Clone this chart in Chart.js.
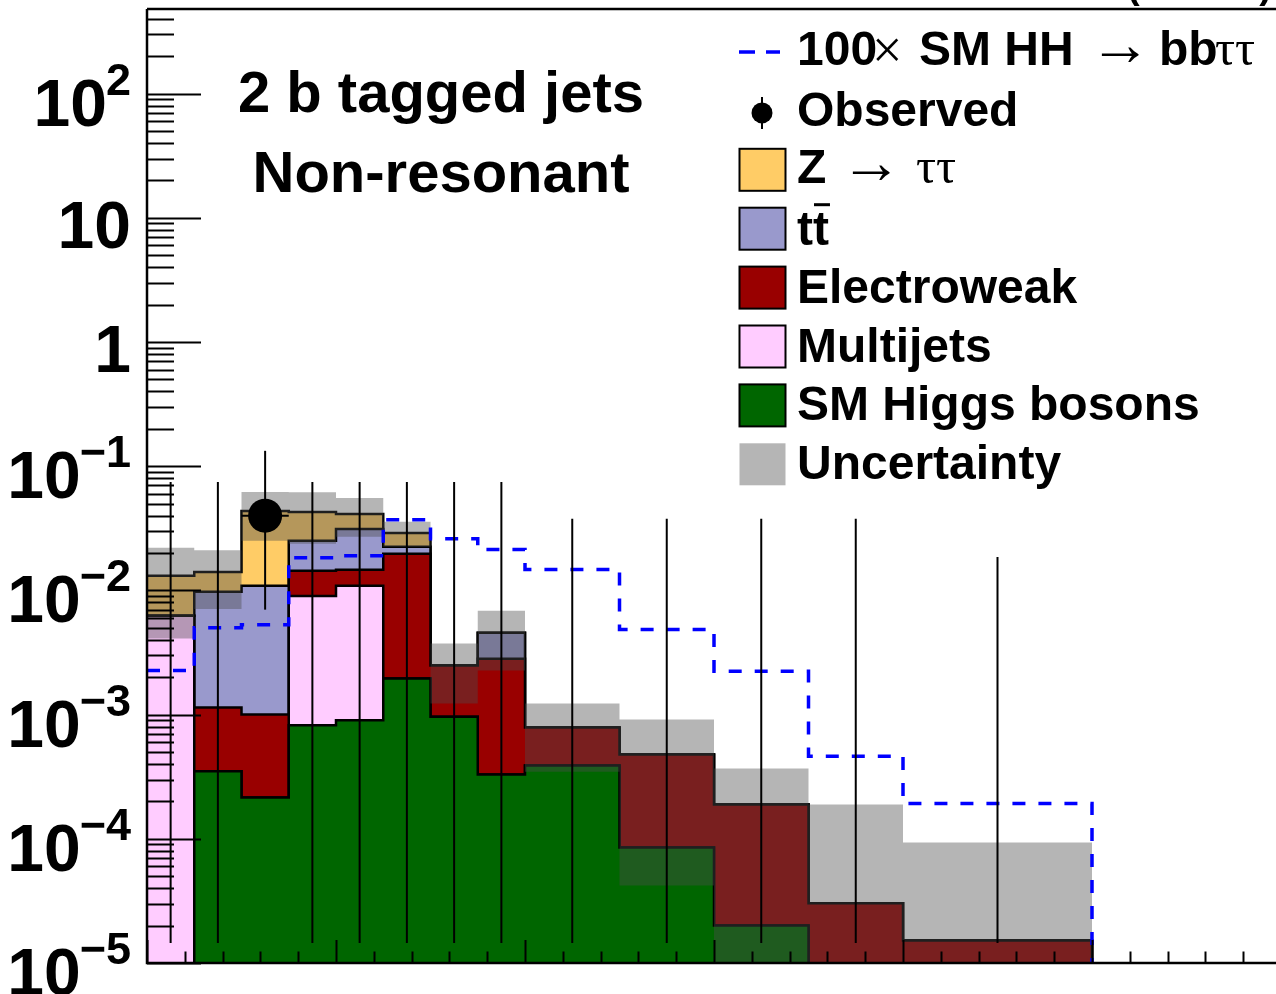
<!DOCTYPE html>
<html>
<head>
<meta charset="utf-8">
<script src="https://cdn.jsdelivr.net/npm/chart.js@4.4.1/dist/chart.umd.min.js"></script>
<style>
  html, body { margin: 0; padding: 0; background: #fff; overflow: hidden; }
  canvas { display: block; }
</style>
</head>
<body>
<canvas id="histChart" width="1290" height="994"></canvas>
<script>
"use strict";

// bin edges (axis runs 0 - 600, last bin is empty)
const binEdges = [0, 25, 50, 75, 100, 125, 150, 175, 200, 250, 300, 350, 400, 500, 600];

// background yields per bin, stack order bottom -> top
const smHiggs     = [0, 3.5e-4, 2.15e-4, 8.2e-4, 9.0e-4, 1.95e-3, 9.6e-4, 3.3e-4, 3.9e-4, 8.5e-5, 2.0e-5, 0, 0, 0];
const multijets   = [6.25e-3, 0, 0, 8.2e-3, 1.0e-2, 0, 0, 0, 0, 0, 0, 0, 0, 0];
const electroweak = [0, 7.9e-4, 7.85e-4, 5.35e-3, 3.76e-3, 1.78e-2, 1.52e-3, 2.49e-3, 3.97e-4, 3.92e-4, 1.69e-4, 3.03e-5, 1.52e-5, 0];
const ttbar       = [0, 8.6e-3, 9.9e-3, 1.07e-2, 1.66e-2, 2.7e-3, 0, 1.74e-3, 0, 0, 0, 0, 0, 0];
const zTauTau     = [6.85e-3, 4.35e-3, 3.27e-2, 1.77e-2, 1.0e-2, 6.6e-3, 0, 0, 0, 0, 0, 0, 0, 0];

// absolute uncertainty on the total background
const bkgUnc      = [9.0e-3, 7.0e-3, 1.85e-2, 1.9e-2, 1.42e-2, 6.6e-3, 1.25e-3, 2.3e-3, 4.4e-4, 4.35e-4, 1.79e-4, 1.59e-4, 7.8e-5, 0];

// 100 x SM HH -> bb tau tau
const signalHH    = [2.26e-3, 5.0e-3, 5.29e-3, 1.83e-2, 1.9e-2, 3.7e-2, 2.6e-2, 2.13e-2, 1.47e-2, 4.85e-3, 2.23e-3, 4.62e-4, 1.92e-4, 0];

// observed data and error bar ends
const observed    = [0, 0, 0.04, 0, 0, 0, 0, 0, 0, 0, 0, 0, 0, null];
const obsUpper    = [0.0746, 0.0746, 0.133, 0.0746, 0.0746, 0.0746, 0.0746, 0.0746, 0.0377, 0.0377, 0.0377, 0.0377, 0.0186, null];
const obsLower    = [1.45e-5, 1.45e-5, 0.007, 1.45e-5, 1.45e-5, 1.45e-5, 1.45e-5, 1.45e-5, 1.45e-5, 1.45e-5, 1.45e-5, 1.45e-5, 1.45e-5, null];

// y axis decades and their labels [base, exponent]
const yTickPowers = [-5, -4, -3, -2, -1, 0, 1, 2];
const yTickLabels = [["10", "\u22125"], ["10", "\u22124"], ["10", "\u22123"], ["10", "\u22122"], ["10", "\u22121"], ["1", ""], ["10", ""], ["10", "2"]];

const colors = {
  higgs: "#006600",
  multijets: "#ffccff",
  electroweak: "#990000",
  ttbar: "#9999cc",
  ztt: "#ffcc66",
  band: "rgba(75,75,75,0.41)",
  signal: "#0000ff"
};

// empty bins sit below the log axis (clipped), a log scale can't take 0
const FLOOR = 1e-8;

function steps(vals) {
  const pts = vals.map((v, i) => ({ x: binEdges[i], y: v > 0 ? v : FLOOR }));
  pts.push({ x: binEdges[binEdges.length - 1], y: pts[pts.length - 1].y });
  return pts;
}

// cumulative stack
const layers = [smHiggs, multijets, electroweak, ttbar, zTauTau];
const cumulative = [];
layers.forEach((layer, k) => {
  cumulative.push(layer.map((v, i) => v + (k > 0 ? cumulative[k - 1][i] : 0)));
});
const total = cumulative[cumulative.length - 1];
const bandHi = total.map((t, i) => t + bkgUnc[i]);
const bandLo = total.map((t, i) => t - bkgUnc[i]);

function stackSet(label, k, color, order) {
  return {
    label: label,
    data: steps(cumulative[k]),
    stepped: "before",
    fill: "start",
    backgroundColor: color,
    borderColor: "#000",
    borderWidth: 2.5,
    pointRadius: 0,
    order: order
  };
}

const datasets = [
  stackSet("Z \u2192 \u03c4\u03c4", 4, colors.ztt, 10),
  stackSet("tt", 3, colors.ttbar, 9),
  stackSet("Electroweak", 2, colors.electroweak, 8),
  stackSet("Multijets", 1, colors.multijets, 7),
  stackSet("SM Higgs bosons", 0, colors.higgs, 6),
  {
    label: "bandHi", data: steps(bandHi), stepped: "before", fill: false,
    borderColor: "rgba(0,0,0,0)", borderWidth: 0, pointRadius: 0, order: 5
  },
  {
    label: "Uncertainty", data: steps(bandLo), stepped: "before", fill: "-1",
    backgroundColor: colors.band, borderColor: "rgba(0,0,0,0)", borderWidth: 0,
    pointRadius: 0, order: 4
  },
  {
    label: "100x SM HH", data: steps(signalHH), stepped: "before", fill: false,
    borderColor: colors.signal, borderWidth: 3.5, borderDash: [13, 13],
    pointRadius: 0, order: 2
  },
  {
    type: "scatter",
    label: "Observed",
    data: observed.map((v, i) => (v > 0 ? { x: (binEdges[i] + binEdges[i + 1]) / 2, y: v } : null)).filter(p => p),
    backgroundColor: "#000",
    borderWidth: 0,
    pointRadius: 17,
    order: 1
  }
];

const rootStyle = {
  id: "rootStyle",
  afterDatasetsDraw(chart) {
    const { ctx, chartArea: a } = chart;
    const x = chart.scales.x, y = chart.scales.y;
    ctx.save();
    ctx.strokeStyle = "#000";
    ctx.lineCap = "butt";

    // data error bars
    ctx.lineWidth = 2;
    observed.forEach((v, i) => {
      if (v === null || obsUpper[i] === null) return;
      const cx = x.getPixelForValue((binEdges[i] + binEdges[i + 1]) / 2);
      ctx.beginPath();
      ctx.moveTo(cx, y.getPixelForValue(obsLower[i]));
      ctx.lineTo(cx, y.getPixelForValue(obsUpper[i]));
      ctx.stroke();
      if (v > 0) {
        const py = y.getPixelForValue(v);
        ctx.beginPath();
        ctx.moveTo(x.getPixelForValue(binEdges[i]), py);
        ctx.lineTo(x.getPixelForValue(binEdges[i + 1]), py);
        ctx.stroke();
      }
    });

    // frame
    ctx.lineWidth = 2.5;
    ctx.beginPath();
    ctx.moveTo(a.left, a.top);
    ctx.lineTo(a.right + 10, a.top);
    ctx.moveTo(a.left, a.top);
    ctx.lineTo(a.left, a.bottom);
    ctx.lineTo(a.right + 10, a.bottom);
    ctx.stroke();

    // y ticks
    ctx.lineWidth = 2;
    yTickPowers.forEach(d => {
      for (let m = 1; m <= 9; m++) {
        const v = m * Math.pow(10, d);
        if (v > y.max) break;
        const py = Math.round(y.getPixelForValue(v)) + 0.5;
        ctx.beginPath();
        ctx.moveTo(a.left, py);
        ctx.lineTo(a.left + (m === 1 ? 54 : 27), py);
        ctx.stroke();
      }
    });

    // x ticks
    for (let v = 0; v <= 600; v += 20) {
      const px = Math.round(x.getPixelForValue(v)) + 0.5;
      ctx.beginPath();
      ctx.moveTo(px, a.bottom);
      ctx.lineTo(px, a.bottom - (v % 100 === 0 ? 23 : 11.5));
      ctx.stroke();
    }

    // y labels
    ctx.fillStyle = "#000";
    ctx.textAlign = "right";
    ctx.textBaseline = "alphabetic";
    yTickPowers.forEach((d, i) => {
      const py = y.getPixelForValue(Math.pow(10, d));
      const [base, sup] = yTickLabels[i];
      const right = 131;
      let baseRight = right;
      if (sup) {
        ctx.font = "bold 45px 'Liberation Sans', Arial, sans-serif";
        ctx.fillText(sup, right, py + 1);
        baseRight = right - ctx.measureText(sup).width + 1;
      }
      ctx.font = "bold 66px 'Liberation Sans', Arial, sans-serif";
      ctx.fillText(base, baseRight, py + (sup ? 32 : 30));
    });
    ctx.restore();
  },
  afterDraw(chart) {
    const ctx = chart.ctx;
    ctx.save();
    ctx.fillStyle = "#000";
    ctx.textBaseline = "alphabetic";
    const bold = "bold 48px 'Liberation Sans', Arial, sans-serif";
    const serif = "50px 'Liberation Serif', 'DejaVu Serif', serif";
    const arrow = "62px 'Liberation Serif', 'DejaVu Serif', serif";

    // cut off header text
    ctx.textAlign = "right";
    ctx.font = "bold 38px 'Liberation Sans', Arial, sans-serif";
    ctx.fillText("(13 TeV)", 1272, -2);

    // category text
    ctx.textAlign = "center";
    ctx.font = "bold 58px 'Liberation Sans', Arial, sans-serif";
    ctx.fillText("2 b tagged jets", 441, 112);
    ctx.fillText("Non-resonant", 441, 192);

    // legend
    ctx.textAlign = "left";
    const rowY = i => 52 + 58.9 * i;
    const tx = 797;

    // signal row
    let cy = rowY(0);
    ctx.strokeStyle = colors.signal;
    ctx.lineWidth = 3.5;
    ctx.beginPath();
    ctx.moveTo(739, cy); ctx.lineTo(755, cy);
    ctx.moveTo(766, cy); ctx.lineTo(780, cy);
    ctx.stroke();
    let by = cy + 13;
    ctx.font = bold; ctx.fillText("100", tx, by);
    ctx.font = "54px 'Liberation Serif', 'DejaVu Serif', serif"; ctx.fillText("\u00d7", 872, by + 3);
    ctx.font = bold; ctx.fillText("SM HH", 919, by);
    ctx.font = arrow; ctx.fillText("\u2192", 1089, by);
    ctx.font = bold; ctx.fillText("bb", 1159, by);
    ctx.font = serif; ctx.fillText("\u03c4\u03c4", 1215, by);

    // observed row
    cy = rowY(1);
    ctx.strokeStyle = "#000";
    ctx.lineWidth = 2;
    ctx.beginPath();
    ctx.moveTo(762, cy - 14); ctx.lineTo(762, cy + 18);
    ctx.stroke();
    ctx.beginPath();
    ctx.arc(762, cy + 2, 10.5, 0, Math.PI * 2);
    ctx.fill();
    ctx.font = bold; ctx.fillText("Observed", tx, cy + 15);

    // filled boxes
    const boxes = [
      [colors.ztt, true], [colors.ttbar, true], [colors.electroweak, true],
      [colors.multijets, true], [colors.higgs, true], ["#b5b5b5", false]
    ];
    boxes.forEach(([col, border], k) => {
      const c = rowY(k + 2);
      ctx.fillStyle = col;
      ctx.fillRect(739.5, c - 21, 46, 42);
      if (border) {
        ctx.strokeStyle = "#000";
        ctx.lineWidth = 2;
        ctx.strokeRect(739.5, c - 21, 46, 42);
      }
    });
    ctx.fillStyle = "#000";
    // Z -> tau tau
    by = rowY(2) + 13;
    ctx.font = bold; ctx.fillText("Z", tx, by);
    ctx.font = arrow; ctx.fillText("\u2192", 840, by);
    ctx.font = serif; ctx.fillText("\u03c4\u03c4", 916, by);
    // t tbar
    by = rowY(3) + 16;
    ctx.font = bold; ctx.fillText("tt", tx, by);
    const tW = ctx.measureText("t").width;
    ctx.lineWidth = 3;
    ctx.beginPath();
    ctx.moveTo(tx + tW + 1, by - 40); ctx.lineTo(tx + 2 * tW + 1, by - 40);
    ctx.stroke();
    ctx.fillText("Electroweak", tx, rowY(4) + 15);
    ctx.fillText("Multijets", tx, rowY(5) + 15);
    ctx.fillText("SM Higgs bosons", tx, rowY(6) + 15);
    ctx.fillText("Uncertainty", tx, rowY(7) + 15);
    ctx.restore();
  }
};

const ctx = document.getElementById("histChart").getContext("2d");
const histChart = new Chart(ctx, {
  type: "line",
  data: { datasets: datasets },
  options: {
    responsive: false,
    animation: false,
    layout: { autoPadding: false, padding: { left: 147, top: 9, right: 9, bottom: 31 } },
    scales: {
      x: { type: "linear", min: 0, max: 600, display: false },
      y: { type: "logarithmic", min: 1e-5, max: 480, display: false }
    },
    plugins: { legend: { display: false }, tooltip: { enabled: false } },
    elements: { line: { tension: 0, borderJoinStyle: "miter" } }
  },
  plugins: [rootStyle]
});
</script>
</body>
</html>
